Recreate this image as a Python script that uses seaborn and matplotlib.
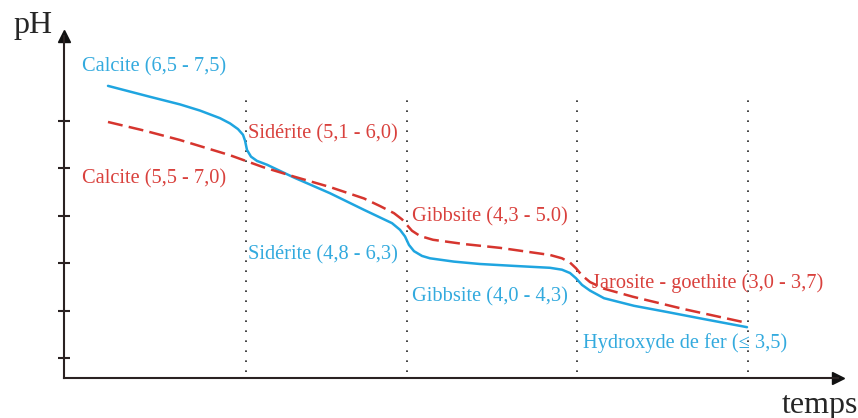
import matplotlib
matplotlib.use("Agg")
import matplotlib.pyplot as plt
import seaborn as sns
import pandas as pd

# curve readings (abstract time units, abstract pH units)
blue_t = [0.44, 0.86, 1.16, 1.36, 1.56, 1.66, 1.74, 1.79, 1.81, 1.83, 1.87, 1.93, 2.03, 2.30, 2.66, 3.00,
          3.28, 3.36, 3.41, 3.45, 3.50, 3.58, 3.66, 3.90, 4.16, 4.50, 4.86, 4.98, 5.06, 5.12, 5.18, 5.26,
          5.40, 5.70, 6.03, 6.40, 6.83]
blue_y = [6.15, 5.92, 5.76, 5.63, 5.47, 5.36, 5.24, 5.12, 5.00, 4.80, 4.66, 4.57, 4.49, 4.22, 3.89, 3.54,
          3.26, 3.12, 2.98, 2.80, 2.67, 2.57, 2.52, 2.45, 2.40, 2.36, 2.32, 2.28, 2.21, 2.10, 1.96, 1.84,
          1.68, 1.52, 1.39, 1.24, 1.07]
red_t = [0.44, 0.80, 1.16, 1.66, 1.99, 2.30, 2.66, 3.00, 3.16, 3.30, 3.38, 3.43, 3.48, 3.56, 3.69, 4.00,
         4.36, 4.86, 4.98, 5.06, 5.12, 5.18, 5.26, 5.40, 5.69, 6.20, 6.83]
red_y = [5.39, 5.21, 5.01, 4.69, 4.44, 4.24, 4.02, 3.78, 3.62, 3.47, 3.34, 3.22, 3.10, 2.99, 2.91, 2.82,
         2.74, 2.59, 2.52, 2.43, 2.31, 2.16, 2.02, 1.88, 1.71, 1.45, 1.16]
limits_t = [1.82, 3.43, 5.13, 6.84]
ticks_y = [0.42, 1.41, 2.42, 3.41, 4.42, 5.41]

labels = ["Calcite (6,5 - 7,5)", "Calcite (5,5 - 7,0)", "Sidérite (5,1 - 6,0)",
          "Sidérite (4,8 - 6,3)", "Gibbsite (4,3 - 5.0)", "Gibbsite (4,0 - 4,3)",
          "Jarosite - goethite (3,0 - 3,7)", "Hydroxyde de fer (≤ 3,5)"]
label_t = [0.18, 0.18, 1.84, 1.84, 3.48, 3.48, 5.28, 5.19]
label_y = [6.55, 4.19, 5.14, 2.59, 3.39, 1.71, 2.00, 0.74]
label_kind = ["b", "r", "r", "b", "r", "b", "r", "b"]

BLUE = "#1fa5e0"
RED = "#d6352e"
TXT = {"b": "#33aade", "r": "#d9413d"}

sns.set_theme(style="white")
plt.rcParams["font.family"] = ["Liberation Serif", "DejaVu Serif"]

fig = plt.figure(figsize=(8.58, 4.18), dpi=100)
ax = fig.add_axes([64 / 858, 40 / 418, (838 - 64) / 858, (378 - 36) / 418])
ax.set_xlim(0, 7.74)
ax.set_ylim(0, 7.2)

for t in limits_t:
    ax.plot([t, t], [0.13, 5.95], color="#222222", lw=1.2, ls=(0, (1, 5)))

blue = pd.DataFrame({"t": blue_t, "pH": blue_y})
red = pd.DataFrame({"t": red_t, "pH": red_y})
sns.lineplot(data=blue, x="t", y="pH", sort=False, color=BLUE, lw=1.8, ax=ax)
sns.lineplot(data=red, x="t", y="pH", sort=False, color=RED, lw=1.8, ax=ax,
             linestyle=(0, (6, 2.5)))

for s, x, y, k in zip(labels, label_t, label_y, label_kind):
    ax.text(x, y, s, color=TXT[k], fontsize=14.7, ha="left", va="center")

for side in ["top", "right"]:
    ax.spines[side].set_visible(False)
for side in ["left", "bottom"]:
    ax.spines[side].set_color("#2a2222")
    ax.spines[side].set_linewidth(1.5)
ax.plot(1, 0, ">", color="#111111", ms=9, transform=ax.transAxes, clip_on=False)
ax.plot(0, 1, "^", color="#111111", ms=9, transform=ax.transAxes, clip_on=False)

ax.set_xticks([])
ax.set_yticks(ticks_y)
ax.set_yticklabels([])
ax.tick_params(axis="y", direction="inout", length=9, width=1.5, color="#2a2222", left=True)
ax.set_xlabel("")
ax.set_ylabel("")

fig.text(13 / 858, 1 - 26 / 418, "pH", fontsize=23, ha="left", va="center")
fig.text(782 / 858, 1 - 405 / 418, "temps", fontsize=23, ha="left", va="center")

fig.savefig("out.png", dpi=100)
